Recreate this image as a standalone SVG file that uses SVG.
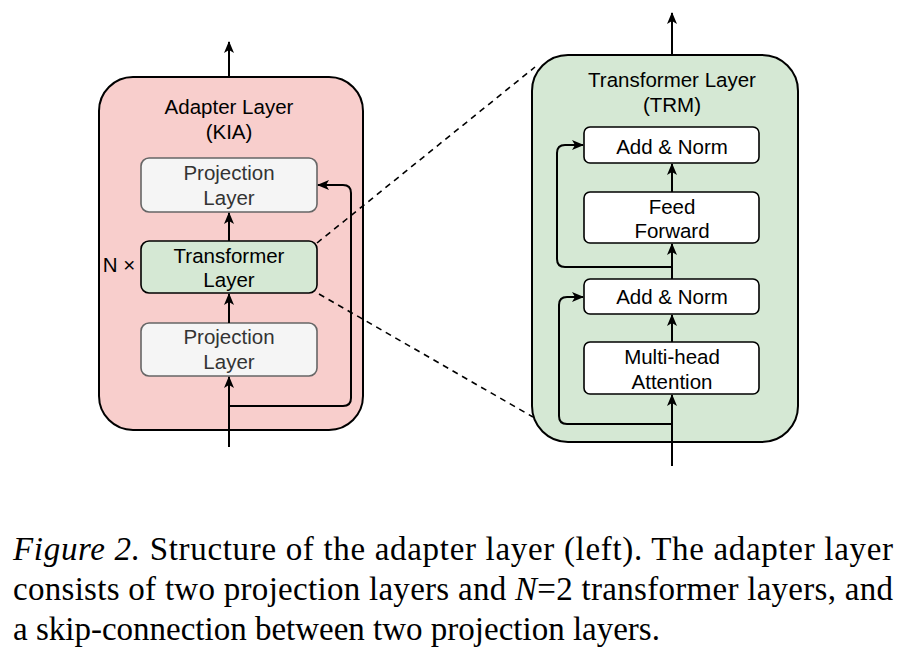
<svg xmlns="http://www.w3.org/2000/svg" width="910" height="666" viewBox="0 0 910 666">
<style>
.lbl{font-family:"Liberation Sans",Arial,sans-serif;font-size:20.5px;fill:#000;text-anchor:middle}
.grey{fill:#333}
.cap{font-family:"Liberation Serif","Times New Roman",serif;font-size:33px;fill:#000}
.ln{fill:none;stroke:#000;stroke-width:2}
.dash{fill:none;stroke:#000;stroke-width:1.6;stroke-dasharray:6,5}
</style>
<defs>
<marker id="ah" viewBox="0 0 12 10" refX="11" refY="5" markerWidth="12" markerHeight="10" markerUnits="userSpaceOnUse" orient="auto">
<path d="M0,0 L12,5 L0,10 L3,5 z" fill="#000"/>
</marker>
</defs>
<rect width="910" height="666" fill="#fff"/>

<g id="adapter">
<rect x="99" y="77" width="264" height="353" rx="34" fill="#f8cecc" stroke="#000" stroke-width="2"/>
<text class="lbl" x="229" y="114">Adapter Layer</text>
<text class="lbl" x="229" y="139">(KIA)</text>
</g>
<g id="proj-top">
<rect x="141" y="158" width="176" height="54" rx="8" fill="#f5f5f5" stroke="#666" stroke-width="1.6"/>
<text class="lbl grey" x="229" y="180">Projection</text>
<text class="lbl grey" x="229" y="205">Layer</text>
</g>
<g id="trm-left">
<rect x="141" y="241" width="176" height="52" rx="8" fill="#d5e8d4" stroke="#000" stroke-width="1.6"/>
<text class="lbl" x="229" y="263">Transformer</text>
<text class="lbl" x="229" y="287">Layer</text>
</g>
<g id="nx">
<text class="lbl" x="119" y="272">N ×</text>
</g>
<g id="proj-bot">
<rect x="141" y="323" width="176" height="53" rx="8" fill="#f5f5f5" stroke="#666" stroke-width="1.6"/>
<text class="lbl grey" x="229" y="344">Projection</text>
<text class="lbl grey" x="229" y="369">Layer</text>
</g>

<g id="trm">
<rect x="532" y="55" width="266" height="387" rx="36" fill="#d5e8d4" stroke="#000" stroke-width="2"/>
<text class="lbl" x="672" y="87">Transformer Layer</text>
<text class="lbl" x="672" y="112">(TRM)</text>
</g>
<g id="addnorm2">
<rect x="584" y="127" width="175" height="36" rx="6" fill="#fff" stroke="#000" stroke-width="1.6"/>
<text class="lbl" x="672" y="154">Add &amp; Norm</text>
</g>
<g id="ff">
<rect x="584" y="192" width="175" height="51" rx="6" fill="#fff" stroke="#000" stroke-width="1.6"/>
<text class="lbl" x="672" y="214">Feed</text>
<text class="lbl" x="672" y="238">Forward</text>
</g>
<g id="addnorm1">
<rect x="584" y="279" width="175" height="35" rx="6" fill="#fff" stroke="#000" stroke-width="1.6"/>
<text class="lbl" x="672" y="304">Add &amp; Norm</text>
</g>
<g id="mha">
<rect x="584" y="342" width="175" height="52" rx="6" fill="#fff" stroke="#000" stroke-width="1.6"/>
<text class="lbl" x="672" y="364">Multi-head</text>
<text class="lbl" x="672" y="389">Attention</text>
</g>

<g id="connectors">
<line class="ln" x1="229" y1="77" x2="229" y2="42" marker-end="url(#ah)"/>
<line class="ln" x1="229" y1="241" x2="229" y2="213" marker-end="url(#ah)"/>
<line class="ln" x1="229" y1="323" x2="229" y2="294" marker-end="url(#ah)"/>
<line class="ln" x1="229" y1="447" x2="229" y2="377" marker-end="url(#ah)"/>
<path class="ln" d="M229,406 L343,406 Q351,406 351,398 L351,193 Q351,185 343,185 L318,185" marker-end="url(#ah)"/>
<line class="dash" x1="317" y1="243" x2="535" y2="67"/>
<line class="dash" x1="319" y1="294" x2="533" y2="417"/>

<line class="ln" x1="672" y1="55" x2="672" y2="13" marker-end="url(#ah)"/>
<line class="ln" x1="672" y1="192" x2="672" y2="164" marker-end="url(#ah)"/>
<line class="ln" x1="672" y1="279" x2="672" y2="244" marker-end="url(#ah)"/>
<line class="ln" x1="672" y1="342" x2="672" y2="315" marker-end="url(#ah)"/>
<line class="ln" x1="672" y1="466" x2="672" y2="395" marker-end="url(#ah)"/>
<path class="ln" d="M672,267 L565,267 Q557,267 557,259 L557,153 Q557,145 565,145 L583,145" marker-end="url(#ah)"/>
<path class="ln" d="M672,424 L567,424 Q559,424 559,416 L559,305 Q559,297 567,297 L583,297" marker-end="url(#ah)"/>
</g>

<g id="caption">
<text class="cap" x="13" y="560" textLength="880" lengthAdjust="spacing"><tspan font-style="italic">Figure 2.</tspan> Structure of the adapter layer (left).  The adapter layer</text>
<text class="cap" x="13" y="600" textLength="880" lengthAdjust="spacing">consists of two projection layers and <tspan font-style="italic">N</tspan>=2 transformer layers, and</text>
<text class="cap" x="13" y="640">a skip-connection between two projection layers.</text>
</g>
</svg>
